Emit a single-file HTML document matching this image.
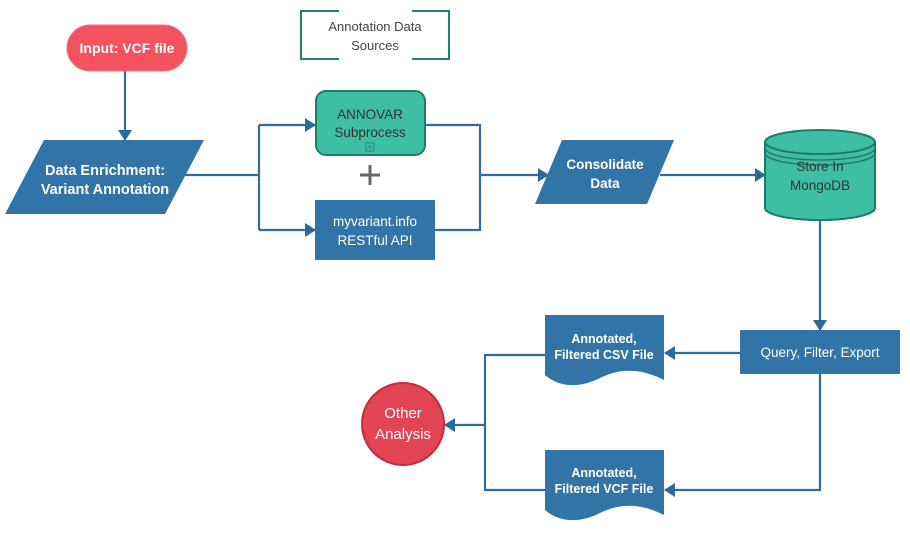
<!DOCTYPE html>
<html><head><meta charset="utf-8"><style>
html,body{margin:0;padding:0;background:#fff;}
svg{display:block;}
text{font-family:"Liberation Sans",sans-serif;}
</style></head><body>
<svg width="910" height="534" viewBox="0 0 910 534" xmlns="http://www.w3.org/2000/svg">
<defs>
<marker id="a" markerWidth="11" markerHeight="14" refX="10" refY="7" orient="auto" markerUnits="userSpaceOnUse">
<path d="M0,0 L11,7 L0,14 Z" fill="#2b6a99"/>
</marker>
</defs>
<g stroke="#2f6e9c" stroke-width="2.2" fill="none">
<line x1="125" y1="70" x2="125" y2="140" marker-end="url(#a)"/>
<polyline points="185,175 259,175"/>
<polyline points="259,125 259,230"/>
<line x1="259" y1="125" x2="315" y2="125" marker-end="url(#a)"/>
<line x1="259" y1="230" x2="315" y2="230" marker-end="url(#a)"/>
<polyline points="425,125 480,125 480,230 434,230"/>
<line x1="480" y1="175" x2="548" y2="175" marker-end="url(#a)"/>
<line x1="660" y1="175" x2="765" y2="175" marker-end="url(#a)"/>
<line x1="820" y1="220" x2="820" y2="330" marker-end="url(#a)"/>
<line x1="740" y1="353" x2="665" y2="353" marker-end="url(#a)"/>
<polyline points="545,355 485,355 485,490 545,490"/>
<line x1="485" y1="425" x2="445" y2="425" marker-end="url(#a)"/>
<polyline points="820,374 820,490 665,490" marker-end="url(#a)"/>
</g>
<rect x="67" y="25" width="120" height="46" rx="23" fill="#f4525f" stroke="#e4798a" stroke-width="1"/>
<text x="127" y="53" text-anchor="middle" fill="#fff" font-size="14" font-weight="bold">Input: VCF file</text>
<polygon points="44,140 204,140 165,214 5,214" fill="#3274a6"/>
<text x="105" y="175" text-anchor="middle" fill="#fff" font-size="14.5" font-weight="bold">Data Enrichment:</text>
<text x="105" y="194" text-anchor="middle" fill="#fff" font-size="14.5" font-weight="bold">Variant Annotation</text>
<g stroke="#1f8075" stroke-width="2" fill="none">
<polyline points="339,11 301,11 301,59 339,59"/>
<polyline points="412,11 449,11 449,59 412,59"/>
</g>
<text x="375" y="31" text-anchor="middle" fill="#444" font-size="13">Annotation Data</text>
<text x="375" y="50" text-anchor="middle" fill="#444" font-size="13">Sources</text>
<rect x="316" y="91" width="109" height="64" rx="10" fill="#3fbfa1" stroke="#1e7d6a" stroke-width="2"/>
<text x="370" y="119" text-anchor="middle" fill="#333" font-size="13.5">ANNOVAR</text>
<text x="370" y="137" text-anchor="middle" fill="#333" font-size="13.5">Subprocess</text>
<rect x="366" y="143" width="8" height="8" fill="none" stroke="#1e7d6a" stroke-width="0.8"/>
<path d="M368,147 H372 M370,145 V149" stroke="#1e7d6a" stroke-width="0.8"/>
<path d="M360,175 H380 M370,165 V185" stroke="#666" stroke-width="3"/>
<rect x="315" y="200" width="120" height="60" fill="#3274a6"/>
<text x="375" y="226" text-anchor="middle" fill="#fff" font-size="13.5">myvariant.info</text>
<text x="375" y="245" text-anchor="middle" fill="#fff" font-size="13.5">RESTful API</text>
<polygon points="562,140 674,140 647,204 535,204" fill="#3274a6"/>
<text x="605" y="169" text-anchor="middle" fill="#fff" font-size="13.5" font-weight="bold">Consolidate</text>
<text x="605" y="188" text-anchor="middle" fill="#fff" font-size="13.5" font-weight="bold">Data</text>
<path d="M765,142 V208 A55,12 0 0 0 875,208 V142" fill="#3fbfa1" stroke="#1e7d6a" stroke-width="2"/>
<ellipse cx="820" cy="142" rx="55" ry="12" fill="#3fbfa1" stroke="#1e7d6a" stroke-width="2"/>
<path d="M765,148 A55,12 0 0 0 875,148 M765,153 A55,12 0 0 0 875,153" fill="none" stroke="#1e7d6a" stroke-width="1.5"/>
<text x="820" y="171" text-anchor="middle" fill="#333" font-size="13.5">Store In</text>
<text x="820" y="190" text-anchor="middle" fill="#333" font-size="13.5">MongoDB</text>
<rect x="740" y="330" width="160" height="44" fill="#3274a6"/>
<text x="820" y="357" text-anchor="middle" fill="#fff" font-size="13.5">Query, Filter, Export</text>
<path d="M545,315 H664 V380 C640,368 620,368 600,378 C580,388 560,388 545,375 Z" fill="#3274a6"/>
<text x="604" y="343" text-anchor="middle" fill="#fff" font-size="12.5" font-weight="bold">Annotated,</text>
<text x="604" y="359" text-anchor="middle" fill="#fff" font-size="12.5" font-weight="bold">Filtered CSV File</text>
<path d="M545,450 H664 V515 C640,503 620,503 600,513 C580,523 560,523 545,510 Z" fill="#3274a6"/>
<text x="604" y="477" text-anchor="middle" fill="#fff" font-size="12.5" font-weight="bold">Annotated,</text>
<text x="604" y="493" text-anchor="middle" fill="#fff" font-size="12.5" font-weight="bold">Filtered VCF File</text>
<circle cx="403" cy="424" r="41" fill="#e24455" stroke="#c42b3c" stroke-width="2"/>
<text x="403" y="418" text-anchor="middle" fill="#fff" font-size="15">Other</text>
<text x="403" y="439" text-anchor="middle" fill="#fff" font-size="15">Analysis</text>
</svg>
</body></html>
